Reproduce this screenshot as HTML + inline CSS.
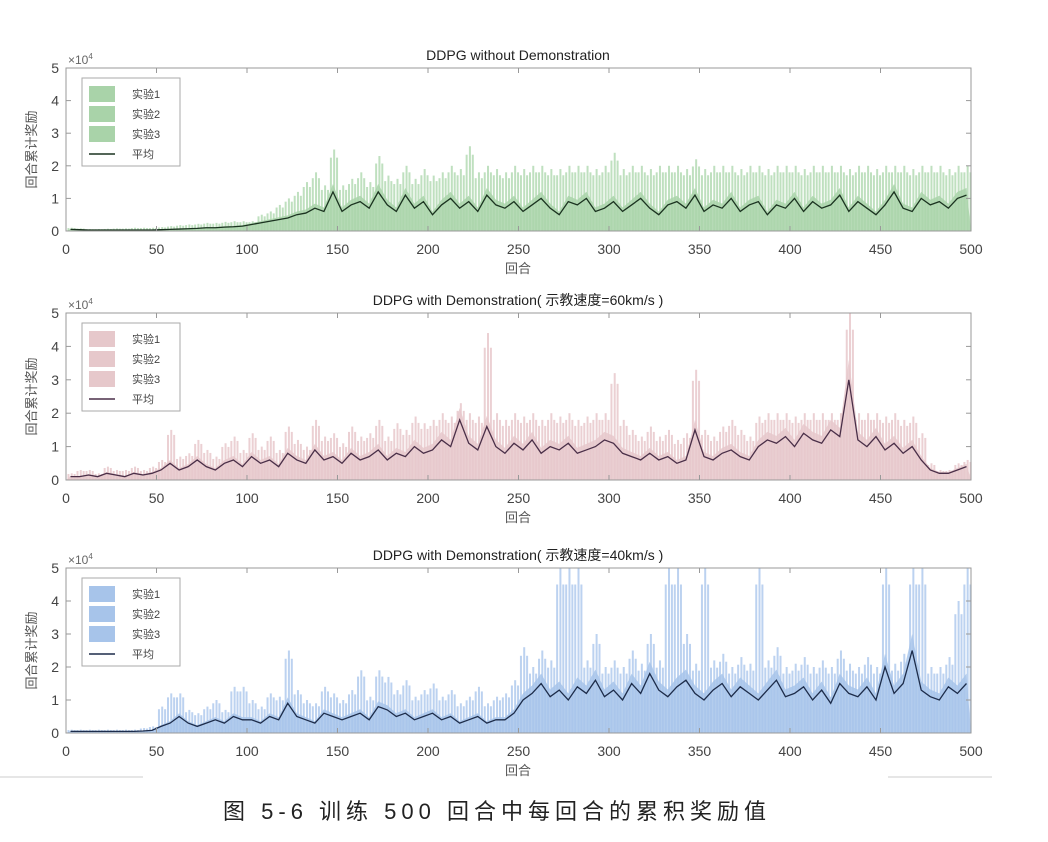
<!DOCTYPE html>
<html><head><meta charset="utf-8"><style>
body{margin:0;background:#fff;width:1048px;height:842px;overflow:hidden}
svg{display:block}
text{font-family:"Liberation Sans","Noto Sans CJK SC",sans-serif}
</style></head><body>
<svg id="fig" width="1048" height="842"></svg>
<script>
const ticksX=[0,50,100,150,200,250,300,350,400,450,500];
const ticksY=[0,1,2,3,4,5];
const legendLabels=["实验1","实验2","实验3","平均"];
const titles=["DDPG without Demonstration","DDPG with Demonstration( 示教速度=60km/s )","DDPG with Demonstration( 示教速度=40km/s )"];
const greenMean=[0.05,0.04,0.03,0.03,0.03,0.03,0.03,0.03,0.03,0.03,0.04,0.05,0.06,0.07,0.08,0.1,0.1,0.12,0.13,0.15,
0.2,0.25,0.3,0.35,0.4,0.5,0.55,0.7,0.6,1.2,
0.6,0.8,0.9,0.7,1.2,0.8,0.6,1.1,0.7,0.9,0.5,0.8,1.0,0.7,0.9,0.6,1.1,0.8,0.7,0.9,
0.6,0.8,1.0,0.7,0.5,0.9,0.8,1.0,0.6,0.7,0.9,0.6,0.8,1.0,0.7,0.5,0.8,0.9,0.7,1.1,
0.6,0.8,0.7,1.0,0.6,0.8,0.9,0.5,0.8,0.7,1.0,0.6,0.9,0.7,0.8,1.1,0.6,0.9,0.7,0.5,
0.8,1.2,0.7,0.6,1.0,0.8,0.9,0.7,1.0,1.1];
const greenMax=[0.1,0.08,0.06,0.06,0.07,0.08,0.08,0.1,0.1,0.1,0.12,0.15,0.18,0.2,0.22,0.25,0.25,0.28,0.3,0.3,
0.3,0.5,0.6,0.8,1.0,1.2,1.5,1.8,1.4,2.5,
1.4,1.6,1.8,1.5,2.3,1.7,1.6,2.0,1.6,1.9,1.7,1.8,2.0,1.9,2.6,1.8,2.0,1.9,1.8,2.0,
1.9,2.0,2.0,1.9,1.9,2.0,2.0,2.0,1.9,2.0,2.4,1.9,2.0,2.0,1.9,2.0,2.0,2.0,1.9,2.2,
1.9,2.0,2.0,2.0,1.9,2.0,2.0,1.9,2.0,2.0,2.0,1.9,2.0,2.0,2.0,2.0,1.9,2.0,2.0,1.9,
2.0,2.0,2.0,1.9,2.0,2.0,2.0,1.9,2.0,2.0];
const pinkMean=[0.1,0.1,0.15,0.1,0.2,0.15,0.1,0.2,0.15,0.2,
0.3,0.5,0.3,0.4,0.6,0.4,0.3,0.5,0.6,0.4,
0.7,0.5,0.6,0.4,0.8,0.6,0.5,0.9,0.6,0.7,0.5,0.8,0.6,0.7,0.9,0.6,0.8,0.7,1.0,0.8,
0.9,1.2,1.0,1.8,1.1,0.9,1.6,1.0,0.8,1.1,0.9,1.2,0.8,1.0,0.9,1.1,0.8,0.9,1.0,1.2,
1.1,0.8,0.7,0.6,0.8,0.6,0.7,0.5,0.6,1.5,0.7,0.6,0.8,0.9,0.7,0.6,
1.0,1.2,1.1,1.3,1.0,1.4,1.2,1.1,1.5,1.3,3.0,1.2,1.0,1.3,0.9,1.1,0.8,1.0,
0.6,0.3,0.2,0.2,0.3,0.4];
const pinkMax=[0.2,0.3,0.3,0.2,0.4,0.3,0.3,0.4,0.3,0.4,
0.6,1.5,0.7,0.8,1.2,0.9,0.7,1.1,1.3,0.9,
1.4,1.0,1.3,0.9,1.6,1.2,1.0,1.8,1.3,1.4,1.1,1.6,1.3,1.4,1.8,1.3,1.7,1.5,1.9,1.7,
1.8,2.0,1.9,2.3,2.0,1.9,4.4,2.0,1.8,2.0,1.9,2.0,1.8,2.0,1.9,2.0,1.8,1.9,2.0,2.0,
3.2,1.8,1.5,1.3,1.6,1.3,1.5,1.2,1.4,3.3,1.5,1.3,1.6,1.8,1.5,1.3,
1.9,2.0,2.0,2.0,1.9,2.0,2.0,2.0,2.0,2.0,5.0,2.0,2.0,2.0,1.9,2.0,1.8,1.9,
1.4,0.5,0.3,0.3,0.5,0.6];
const blueMean=[0.05,0.05,0.05,0.05,0.05,0.05,0.05,0.05,0.06,0.08,
0.2,0.3,0.5,0.3,0.2,0.3,0.4,0.3,0.5,0.4,
0.4,0.3,0.5,0.4,0.9,0.5,0.4,0.3,0.6,0.5,0.4,0.5,0.6,0.4,0.8,0.7,0.5,0.6,0.4,0.5,0.6,0.4,0.5,0.3,0.4,0.5,0.3,0.4,0.4,0.6,
1.0,1.2,1.5,1.1,1.3,1.0,1.4,1.2,1.6,1.1,1.3,1.0,1.5,1.2,1.8,1.3,1.1,1.4,1.6,1.2,1.0,1.3,1.5,1.1,1.4,1.2,1.0,1.3,1.6,1.1,
1.2,1.4,1.0,1.3,0.9,1.5,1.2,1.1,1.4,1.0,2.0,1.2,1.5,2.5,1.3,1.1,1.0,1.4,1.2,1.5];
const blueMax=[0.1,0.1,0.1,0.1,0.1,0.1,0.1,0.1,0.15,0.2,
0.8,1.2,1.2,0.7,0.6,0.8,1.0,0.7,1.4,1.4,
1.0,0.8,1.2,1.1,2.5,1.3,1.0,0.9,1.4,1.2,1.0,1.3,1.9,1.1,1.9,1.7,1.3,1.6,1.1,1.3,1.5,1.1,1.3,0.9,1.1,1.4,0.9,1.1,1.2,1.6,
2.6,2.0,2.5,2.2,5.0,5.0,5.0,2.2,3.0,2.0,2.2,2.0,2.5,2.1,3.0,2.2,5.0,5.0,3.0,2.1,5.0,2.2,2.4,2.0,2.3,2.1,5.0,2.2,2.6,2.0,
2.1,2.3,2.0,2.2,2.0,2.5,2.1,2.0,2.3,2.0,5.0,2.1,2.4,5.0,5.0,2.0,2.0,2.3,4.0,5.0];
const panels=[
 {top:68,bottom:231,mean:greenMean,max:greenMax,fill:"#a9d3a9",bar:"#bfe0bf",line:"#1b3320"},
 {top:313,bottom:480,mean:pinkMean,max:pinkMax,fill:"#e6c8cb",bar:"#ebd0d3",line:"#4a2f48"},
 {top:568,bottom:733,mean:blueMean,max:blueMax,fill:"#a7c4ea",bar:"#bcd2f0",line:"#1d2c4a"}];
const NS="http://www.w3.org/2000/svg",svg=document.getElementById('fig');
const L=66,R=971;
function mk(t,a,p){const e=document.createElementNS(NS,t);for(const k in a)e.setAttribute(k,a[k]);(p||svg).appendChild(e);return e;}
const xs=v=>L+(R-L)*v/500;
panels.forEach((P,i)=>{
 const ys=v=>P.bottom-(P.bottom-P.top)*Math.min(v,5)/5;
 const g=mk('g',{});
 
 
 P.max.forEach((v,j)=>{
  [0.8,2.6,4.2].forEach((o,q)=>{
   const h=q===1?v:Math.max(v*0.9,0);
   const r=mk('rect',{x:xs(j*5+o),y:ys(h),width:2,height:P.bottom-ys(h),fill:P.bar},g);
   
   
  });});
 let d='M'+xs(0)+','+P.bottom;
 P.mean.forEach((v,j)=>{d+=' L'+xs(j*5+2.5)+','+ys(v*1.2);});
 d+=' L'+xs(500)+','+P.bottom+'Z';
 const a=mk('path',{d:d,fill:P.fill,'fill-opacity':0.85},g);
 
 
 let dl='';P.mean.forEach((v,j)=>{dl+=(j?' L':'M')+xs(j*5+2.5)+','+ys(v);});
 const ln=mk('path',{d:dl,fill:'none',stroke:P.line,'stroke-width':1.3},g);
 
 
 const box=mk('rect',{x:L,y:P.top,width:R-L,height:P.bottom-P.top,fill:'none',stroke:'#999'},g);
 
 
 ticksX.forEach(t=>{mk('line',{x1:xs(t),x2:xs(t),y1:P.bottom,y2:P.bottom-5,stroke:'#999'},g);mk('line',{x1:xs(t),x2:xs(t),y1:P.top,y2:P.top+5,stroke:'#999'},g);
  const tx=mk('text',{x:xs(t),y:P.bottom+23,'text-anchor':'middle','font-size':14,fill:'#444'},g);tx.textContent=t;
  
  });
 ticksY.forEach(t=>{const y=ys(t);mk('line',{x1:L,x2:L+5,y1:y,y2:y,stroke:'#999'},g);mk('line',{x1:R,x2:R-5,y1:y,y2:y,stroke:'#999'},g);
  const tx=mk('text',{x:L-7,y:y+5,'text-anchor':'end','font-size':14,fill:'#444'},g);tx.textContent=t;
  
  });
 const ex=mk('text',{x:L+2,y:P.top-4,'font-size':12,fill:'#666'},g);ex.innerHTML='×10<tspan dy="-5" font-size="8">4</tspan>';
 
 
 const ti=mk('text',{x:518,y:P.top-8,'text-anchor':'middle','font-size':14,fill:'#222'},g);ti.textContent=titles[i];
 
 
 const xl=mk('text',{x:518,y:P.bottom+42,'text-anchor':'middle','font-size':13,fill:'#555'},g);xl.textContent='回合';
 
 
 const cy=(P.top+P.bottom)/2;
 const yl=mk('text',{x:36,y:cy,'text-anchor':'middle','font-size':13,fill:'#555',transform:'rotate(-90 36 '+cy+')'},g);yl.textContent='回合累计奖励';
 
 
 const lg=mk('g',{},g);
 
 
 const ly=P.top+10;
 mk('rect',{x:82,y:ly,width:98,height:88,fill:'#fff',stroke:'#aaa'},lg);
 legendLabels.forEach((lb,k)=>{const yy=ly+8+k*20;
  if(k<3)mk('rect',{x:89,y:yy,width:26,height:16,fill:P.fill},lg);else mk('line',{x1:89,x2:115,y1:yy+8,y2:yy+8,stroke:P.line,'stroke-width':1.5},lg);
  const t=mk('text',{x:132,y:yy+12,'font-size':11,fill:'#444'},lg);t.textContent=lb;
  
  });
});
mk('line',{x1:0,x2:143,y1:777,y2:777,stroke:'#ccc'});
mk('line',{x1:888,x2:992,y1:777,y2:777,stroke:'#ccc'});
const cap=mk('text',{x:497,y:819,'text-anchor':'middle','font-size':22,fill:'#222','letter-spacing':'5','font-family':'"Liberation Serif","Noto Serif CJK SC",serif'});
cap.textContent='图 5-6 训练 500 回合中每回合的累积奖励值';


</script>
</body></html>
